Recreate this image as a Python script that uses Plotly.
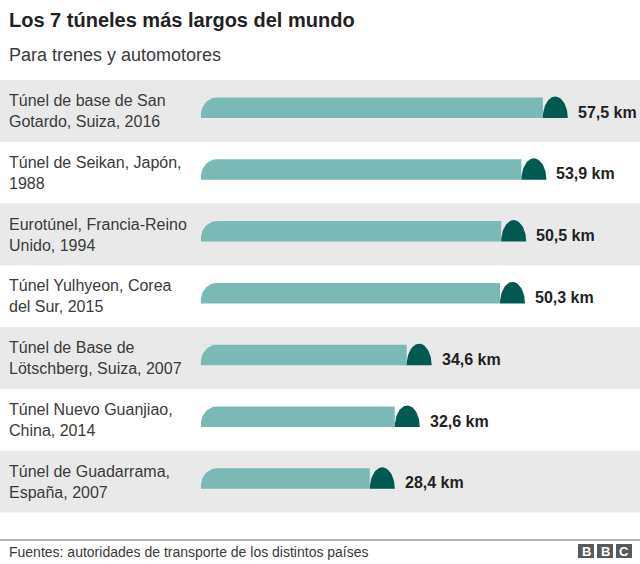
import numpy as np
import plotly.graph_objects as go

# data
tunnels = [
    "Túnel de base de San<br>Gotardo, Suiza, 2016",
    "Túnel de Seikan, Japón,<br>1988",
    "Eurotúnel, Francia-Reino<br>Unido, 1994",
    "Túnel Yulhyeon, Corea<br>del Sur, 2015",
    "Túnel de Base de<br>Lötschberg, Suiza, 2007",
    "Túnel Nuevo Guanjiao,<br>China, 2014",
    "Túnel de Guadarrama,<br>España, 2007",
]
lengths_km = [57.5, 53.9, 50.5, 50.3, 34.6, 32.6, 28.4]

title = "Los 7 túneles más largos del mundo"
subtitle = "Para trenes y automotores"
source = "Fuentes: autoridades de transporte de los distintos países"

# styling
W, H = 640, 564
FONT = "Liberation Sans, Arial, Helvetica, sans-serif"
TEAL = "#7bb9b6"
PORTAL = "#005a52"
BAND = "#e9e9e9"
TEXT = "#3a3a3a"

# axes: x in km, y in row units (row i spans i..i+1)
X_RANGE = [-33.8, 73.85]
ROW_PX = 61.8
TOP_PX = 80
Y_RANGE = [(H - TOP_PX) / ROW_PX, -TOP_PX / ROW_PX]
SX = W / (X_RANGE[1] - X_RANGE[0])   # px per km

BAR_TOP = 17.5 / ROW_PX
BAR_H = 20.5 / ROW_PX
DOME_W = 25 / SX
DOME_H = 21.5 / ROW_PX
CORNER_RX = 16 / SX
CORNER_RY = 17 / ROW_PX

n = len(tunnels)
rows = np.arange(n)
bg = [BAND if i % 2 == 0 else "white" for i in rows]

fig = go.Figure()

# tunnel bodies
fig.add_trace(go.Bar(
    orientation="h",
    x=lengths_km,
    y=rows + BAR_TOP + BAR_H / 2,
    width=BAR_H,
    base=0,
    marker=dict(color=TEAL, line=dict(width=0)),
    hoverinfo="skip",
))

# rounded top-left corner of each tube (cut out with row colour)
th = np.linspace(np.pi / 2, np.pi, 20)
for i in rows:
    top = i + BAR_TOP
    cx = CORNER_RX + CORNER_RX * np.cos(th)
    cy = top + CORNER_RY - CORNER_RY * np.sin(th)
    fig.add_trace(go.Scatter(
        x=np.concatenate([[-0.3, -0.3], cx, [-0.3]]),
        y=np.concatenate([[top - 0.01, top - 0.01], cy, [top + CORNER_RY]]),
        fill="toself", fillcolor=bg[i], mode="lines",
        line=dict(width=0, color=bg[i]), hoverinfo="skip",
    ))

# dark portal at the end of each tube
th2 = np.linspace(0, np.pi, 40)
px, py = [], []
for i, v in zip(rows, lengths_km):
    bottom = i + BAR_TOP + BAR_H
    px += list(v + DOME_W / 2 + DOME_W / 2 * np.cos(th2)) + [None]
    py += list(bottom - DOME_H * np.sin(th2)) + [None]
fig.add_trace(go.Scatter(
    x=px, y=py, fill="toself", fillcolor=PORTAL, mode="lines",
    line=dict(width=0, color=PORTAL), hoverinfo="skip",
))

# row backgrounds
shapes = []
for i in rows:
    if i % 2 == 0:
        shapes.append(dict(type="rect", xref="paper", yref="y", x0=0, x1=1,
                           y0=i, y1=i + 1, fillcolor=BAND, line=dict(width=0),
                           layer="below"))

# footer rule
shapes.append(dict(type="line", xref="paper", yref="paper", x0=0, x1=1,
                   y0=1 - 540 / H, y1=1 - 540 / H,
                   line=dict(color="#b4b4b4", width=2)))

annotations = []
for i, (name, v) in enumerate(zip(tunnels, lengths_km)):
    annotations.append(dict(
        text=name, xref="paper", yref="y", x=7 / W, y=i + 0.5,
        xanchor="left", yanchor="middle", align="left", showarrow=False,
        font=dict(family=FONT, size=16, color=TEXT)))
    annotations.append(dict(
        text="<b>" + f"{v:.1f}".replace(".", ",") + " km</b>",
        xref="x", yref="y", x=v + DOME_W, y=i + 0.52, xshift=8,
        xanchor="left", yanchor="middle", showarrow=False,
        font=dict(family=FONT, size=16, color="#222222")))

annotations += [
    dict(text="<b>" + title + "</b>", xref="paper", yref="paper",
         x=7 / W, y=1 - 20 / H, xanchor="left", yanchor="middle",
         showarrow=False, font=dict(family=FONT, size=20, color="#222222")),
    dict(text=subtitle, xref="paper", yref="paper",
         x=7 / W, y=1 - 55 / H, xanchor="left", yanchor="middle",
         showarrow=False, font=dict(family=FONT, size=18, color=TEXT)),
    dict(text=source, xref="paper", yref="paper",
         x=7 / W, y=1 - 552 / H, xanchor="left", yanchor="middle",
         showarrow=False, font=dict(family=FONT, size=14, color=TEXT)),
]

# BBC blocks
for k, letter in enumerate("BBC"):
    x0 = 578 + k * 19
    shapes.append(dict(type="rect", xref="paper", yref="paper",
                       x0=x0 / W, x1=(x0 + 16) / W,
                       y0=1 - 558 / H, y1=1 - 544 / H,
                       fillcolor="#5a5a5a", line=dict(width=0)))
    annotations.append(dict(text="<b>" + letter + "</b>", xref="paper",
                            yref="paper", x=(x0 + 8) / W, y=1 - 551 / H,
                            xanchor="center", yanchor="middle",
                            showarrow=False,
                            font=dict(family=FONT, size=13, color="white")))

fig.update_layout(
    width=W, height=H,
    margin=dict(l=0, r=0, t=0, b=0, pad=0),
    paper_bgcolor="white", plot_bgcolor="white",
    showlegend=False, barmode="overlay",
    xaxis=dict(range=X_RANGE, visible=False, fixedrange=True),
    yaxis=dict(range=Y_RANGE, visible=False, fixedrange=True),
    shapes=shapes, annotations=annotations,
    hovermode=False,
)

# page has a default 8px body margin; drop it so the figure fills the window
fig.write_html("out.html", config={"displayModeBar": False},
               post_script="document.body.style.margin='0';"
                           "document.body.style.overflow='hidden';")
